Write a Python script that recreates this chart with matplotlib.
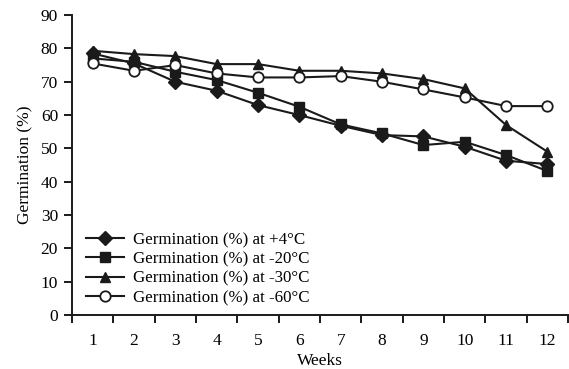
import matplotlib
matplotlib.use("Agg")
import matplotlib.pyplot as plt
import numpy as np

weeks = list(range(1, 13))
g_p4 = [78.5, 75.5, 70, 67.3, 63, 60, 56.8, 54, 53.6, 50.5, 46.3, 45.3]
g_m20 = [77, 76, 73, 70.5, 66.7, 62.5, 57.2, 54.5, 51, 52, 48, 43.2]
g_m30 = [79.3, 78.3, 77.7, 75.3, 75.3, 73.3, 73.3, 72.5, 70.8, 68, 57, 49]
g_m60 = [75.5, 73.3, 75, 72.5, 71.3, 71.3, 71.7, 70, 67.7, 65.3, 62.7, 62.7]
labels = ["Germination (%) at +4°C", "Germination (%) at -20°C",
          "Germination (%) at -30°C", "Germination (%) at -60°C"]

plt.rcParams['font.family'] = ['Liberation Serif', 'DejaVu Serif']
fig = plt.figure(figsize=(5.69, 3.69), dpi=100)
ax = fig.add_axes([0.1265, 0.1463, 0.872, 0.8127])

c = '#1a1a1a'
kw = dict(color=c, linewidth=1.5, markersize=7.5)
ax.plot(weeks, g_p4, marker='D', markersize=7, color=c, linewidth=1.5, label=labels[0])
ax.plot(weeks, g_m20, marker='s', label=labels[1], **kw)
ax.plot(weeks, g_m30, marker='^', label=labels[2], **kw)
ax.plot(weeks, g_m60, marker='o', markerfacecolor='white', markeredgewidth=1.3,
        label=labels[3], **kw)

ax.set_xlim(0.5, 12.5)
ax.set_ylim(0, 90)
ax.set_yticks(np.arange(0, 91, 10))
ax.set_xticks(weeks)
ax.set_xticks(np.arange(0.5, 13, 1), minor=True)
ax.tick_params(axis='x', which='major', length=0, pad=13, labelsize=12.5)
ax.tick_params(axis='x', which='minor', length=6, width=1.4, direction='out', color=c)
ax.tick_params(axis='y', length=6, width=1.4, direction='out', labelsize=12.5, color=c, pad=4)
for s in ['top', 'right']:
    ax.spines[s].set_visible(False)
for s in ['left', 'bottom']:
    ax.spines[s].set_linewidth(1.4)
    ax.spines[s].set_color(c)

ax.set_xlabel("Weeks", fontsize=12.5, labelpad=3)
ax.set_ylabel("Germination (%)", fontsize=12.5, labelpad=5)

leg = ax.legend(loc='lower left', bbox_to_anchor=(0.005, -0.01), frameon=False,
                fontsize=12.2, handlelength=2.2, handletextpad=0.55,
                labelspacing=0.2, borderaxespad=0.3)

fig.savefig("out.png", dpi=100)
